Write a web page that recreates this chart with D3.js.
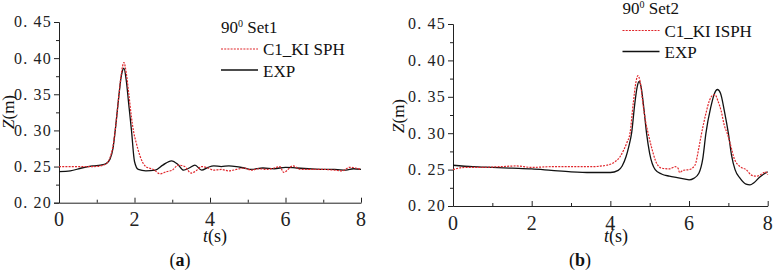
<!doctype html>
<html lang="en">
<head>
<meta charset="utf-8">
<script src="https://cdn.jsdelivr.net/npm/d3@7"></script>
<style>
	body{ margin:0; padding:0; background:#fff; }
	svg{ display:block; font-family:"Liberation Serif","Times New Roman",serif; }
	.domain, .tick line{ stroke:#222; }
</style>
</head>
<body>
<svg id="chart" width="781" height="276"></svg>
<script>
// panel (a) : 90 deg Set1
var tExpA = [0,0.3,0.6,0.9,1.1,1.25,1.35,1.43,1.5,1.58,1.65,1.72,1.78,1.85,1.92,2.0,2.1,2.3,2.55,2.75,2.98,3.15,3.3,3.45,3.6,3.78,3.95,4.1,4.3,4.5,4.7,4.9,5.1,5.4,5.7,6.0,6.3,6.6,7.0,7.3,7.6,7.8,8];
var expA  = [0.243,0.244,0.248,0.251,0.252,0.254,0.260,0.275,0.305,0.345,0.375,0.386,0.370,0.335,0.300,0.257,0.246,0.244,0.245,0.252,0.258,0.253,0.245,0.248,0.252,0.245,0.249,0.251,0.250,0.251,0.250,0.248,0.246,0.248,0.247,0.249,0.248,0.247,0.246,0.246,0.245,0.247,0.246];
var tSphA = [0,0.5,0.9,1.1,1.25,1.35,1.43,1.5,1.58,1.65,1.72,1.78,1.85,1.92,1.97,2.05,2.15,2.3,2.5,2.68,2.85,3.0,3.16,3.33,3.5,3.65,3.78,3.95,4.1,4.3,4.5,4.7,4.9,5.1,5.3,5.5,5.7,5.85,5.95,6.2,6.4,6.7,7.0,7.3,7.5,7.7,7.85,8];
var sphA  = [0.250,0.250,0.250,0.251,0.254,0.262,0.278,0.305,0.345,0.378,0.394,0.380,0.350,0.318,0.300,0.282,0.264,0.250,0.246,0.240,0.243,0.245,0.252,0.250,0.241,0.245,0.250,0.248,0.245,0.246,0.244,0.246,0.248,0.245,0.247,0.246,0.248,0.250,0.242,0.251,0.246,0.246,0.246,0.245,0.244,0.249,0.248,0.246];

// panel (b) : 90 deg Set2
var tExpB = [0,0.5,1,1.5,2,2.5,3,3.5,4,4.2,4.3,4.4,4.47,4.54,4.62,4.68,4.73,4.78,4.85,4.92,5.0,5.14,5.3,5.5,5.7,5.9,6.0,6.12,6.25,6.35,6.43,6.55,6.65,6.72,6.8,6.9,7.0,7.08,7.17,7.3,7.45,7.55,7.65,7.8,8];
var expB  = [0.256,0.254,0.253,0.252,0.251,0.249,0.247,0.246,0.246,0.249,0.255,0.268,0.282,0.300,0.340,0.363,0.371,0.364,0.335,0.300,0.272,0.250,0.244,0.241,0.239,0.237,0.236,0.238,0.245,0.265,0.300,0.335,0.355,0.360,0.355,0.330,0.300,0.270,0.250,0.238,0.230,0.229,0.232,0.240,0.247];
var tIsphB = [0,0.3,0.7,1.2,1.6,2,2.5,3,3.5,3.9,4.1,4.25,4.35,4.42,4.5,4.58,4.65,4.7,4.76,4.83,4.9,4.96,5.05,5.15,5.3,5.5,5.65,5.72,5.76,5.85,6.0,6.15,6.25,6.32,6.42,6.52,6.6,6.66,6.73,6.82,6.9,6.97,7.05,7.15,7.3,7.45,7.6,7.72,7.85,7.95,8];
var isphB  = [0.250,0.253,0.253,0.254,0.255,0.253,0.254,0.254,0.254,0.256,0.260,0.268,0.278,0.287,0.300,0.340,0.370,0.379,0.370,0.340,0.315,0.300,0.280,0.262,0.252,0.251,0.254,0.252,0.246,0.249,0.250,0.256,0.280,0.300,0.325,0.345,0.352,0.353,0.345,0.330,0.310,0.300,0.285,0.265,0.254,0.250,0.242,0.241,0.244,0.247,0.243];

var yTicks = [0.20,0.25,0.30,0.35,0.40,0.45];
var yMinor = [0.225,0.275,0.325,0.375,0.425];
var xTicks = [0,2,4,6,8];
var xMinor = [1,3,5,7];

var svg = d3.select("#chart");
var fmtY = function(d){ return d3.format(".2f")(d).replace(".",". "); };

function panel(o){
	var x = d3.scaleLinear().domain([0,8]).range([o.left,o.right]);
	var y = d3.scaleLinear().domain([0.20,0.45]).range([o.bottom,o.top]);

	//y axis (ticks outside)
	svg.append("g")
		.attr("transform","translate("+o.left+",0)")
		.call(d3.axisLeft(y).tickValues(yTicks).tickSize(5).tickFormat(""));
	svg.append("g")
		.attr("transform","translate("+o.left+",0)")
		.call(d3.axisLeft(y).tickValues(yMinor).tickSize(3).tickFormat(""))
		.select(".domain").remove();
	svg.append("g").selectAll("text").data(yTicks).enter().append("text")
		.attr("x",o.left-7).attr("y",function(d){ return y(d); }).attr("dy","0.34em")
		.attr("text-anchor","end").attr("font-size",16).attr("fill","#222")
		.style("letter-spacing","1.2px")
		.text(fmtY);

	//x axis (ticks inside)
	svg.append("g")
		.attr("transform","translate(0,"+o.bottom+")")
		.call(d3.axisBottom(x).tickValues(xTicks).tickSizeInner(-5).tickSizeOuter(0).tickFormat(""));
	svg.append("g")
		.attr("transform","translate(0,"+o.bottom+")")
		.call(d3.axisBottom(x).tickValues(xMinor).tickSize(-3).tickFormat(""))
		.select(".domain").remove();
	svg.append("g").selectAll("text").data(xTicks).enter().append("text")
		.attr("x",function(d){ return x(d); }).attr("y",o.bottom+23.5)
		.attr("text-anchor","middle").attr("font-size",20).attr("fill","#222")
		.text(function(d){ return d; });

	var line = d3.line().curve(d3.curveMonotoneX)
		.x(function(d){ return x(d[0]); })
		.y(function(d){ return y(d[1]); });

	svg.append("path")
		.datum(d3.zip(o.tExp,o.exp))
		.attr("d",line)
		.attr("fill","none").attr("stroke","#111").attr("stroke-width",1.3);
	svg.append("path")
		.datum(d3.zip(o.tSim,o.sim))
		.attr("d",line)
		.attr("fill","none").attr("stroke","#e0262b").attr("stroke-width",1.2)
		.attr("stroke-dasharray","2,1.2");

	//legend
	var t = svg.append("text").attr("x",o.legX).attr("y",o.legY).attr("font-size",17).attr("fill","#111");
	t.append("tspan").text("90");
	t.append("tspan").attr("dy",-6).attr("font-size",10).text("0");
	t.append("tspan").attr("dy",6).text(" "+o.title);

	svg.append("line").attr("x1",o.legX).attr("x2",o.legX+37)
		.attr("y1",o.legY+16.5).attr("y2",o.legY+16.5)
		.attr("stroke","#e0262b").attr("stroke-width",1.2).attr("stroke-dasharray","2,1.2");
	svg.append("text").attr("x",o.legX+42).attr("y",o.legY+22.5)
		.attr("font-size",17).attr("fill","#111").text(o.simName);
	svg.append("line").attr("x1",o.legX).attr("x2",o.legX+37)
		.attr("y1",o.legY+37.5).attr("y2",o.legY+37.5)
		.attr("stroke","#111").attr("stroke-width",1.3);
	svg.append("text").attr("x",o.legX+42).attr("y",o.legY+44)
		.attr("font-size",17).attr("fill","#111").text("EXP");

	//axis titles
	var zt = svg.append("text")
		.attr("transform","translate("+o.zx+","+o.zy+") rotate(-90)")
		.attr("text-anchor","middle").attr("font-size",17).attr("fill","#111");
	zt.append("tspan").attr("font-style","italic").text("Z");
	zt.append("tspan").text("(m)");

	var tt = svg.append("text").attr("x",o.tx).attr("y",242)
		.attr("text-anchor","middle").attr("font-size",18).attr("fill","#111");
	tt.append("tspan").attr("font-style","italic").text("t");
	tt.append("tspan").text("(s)");

	svg.append("text").attr("x",o.lx).attr("y",266)
		.attr("text-anchor","middle").attr("font-size",18).attr("fill","#111")
		.html("(<tspan font-weight='bold'>"+o.letter+"</tspan>)");
}

panel({left:59,right:361,top:22,bottom:202.7,tExp:tExpA,exp:expA,tSim:tSphA,sim:sphA,
	legX:221,legY:32.5,title:"Set1",simName:"C1_KI SPH",zx:14,zy:112,tx:215,lx:180,letter:"a"});
panel({left:453,right:767.7,top:24,bottom:206,tExp:tExpB,exp:expB,tSim:tIsphB,sim:isphB,
	legX:622.5,legY:14,title:"Set2",simName:"C1_KI ISPH",zx:404,zy:116,tx:616,lx:580,letter:"b"});
</script>
</body>
</html>
